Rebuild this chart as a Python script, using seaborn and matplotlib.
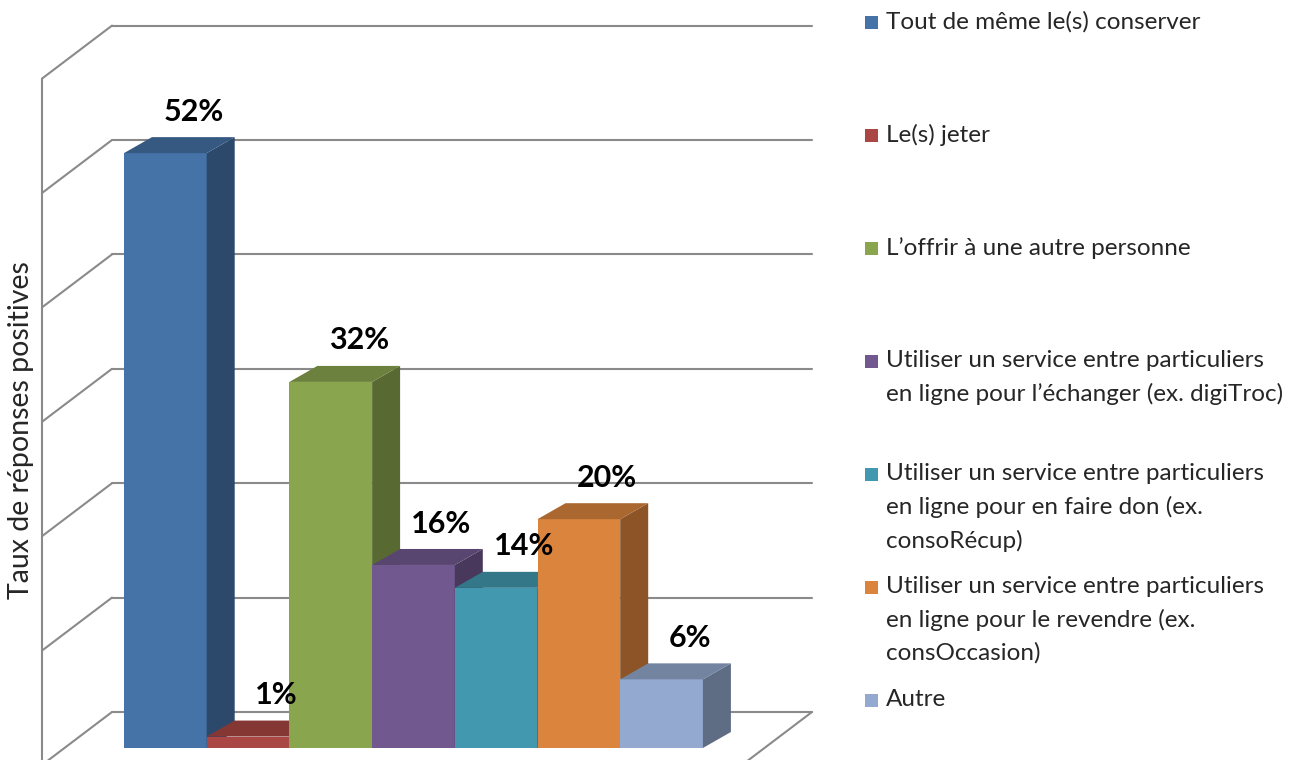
import matplotlib
matplotlib.use("Agg")
import matplotlib.pyplot as plt
import seaborn as sns
import pandas as pd
from matplotlib.patches import Polygon, Rectangle
from matplotlib.colors import to_rgb

categories = [
    "Tout de même le(s) conserver",
    "Le(s) jeter",
    "L’offrir à une autre personne",
    "Utiliser un service entre particuliers\nen ligne pour l’échanger (ex. digiTroc)",
    "Utiliser un service entre particuliers\nen ligne pour en faire don (ex.\nconsoRécup)",
    "Utiliser un service entre particuliers\nen ligne pour le revendre (ex.\nconsOccasion)",
    "Autre",
]
values = [52, 1, 32, 16, 14, 20, 6]
value_labels = ["52%", "1%", "32%", "16%", "14%", "20%", "6%"]
grid_values = [0, 10, 20, 30, 40, 50, 60]
colors = ["#4572A7", "#AA4643", "#89A54E", "#71588F", "#4198AF", "#DB843D", "#93A9CF"]

W, H = 1297, 760
PX_CAT = 82.7     # pixels per category
PX_PCT = 11.44    # pixels per percent
X0_PX = 124       # left edge of first bar
Y0_PX = 748       # floor of the front plane


def px_x(px):
    return (px - X0_PX) / PX_CAT - 0.5


def px_y(py):
    return (Y0_PX - py) / PX_PCT


def shade(col, f):
    r, g, b = to_rgb(col)
    return (r * f, g * f, b * f)


# depth of the bars and of the walls, in data units
BAR_DX = 28 / PX_CAT
BAR_DY = 16 / PX_PCT
WALL_DY = 36 / PX_PCT
WALL_X0 = px_x(112)
WALL_X1 = px_x(812)
LEFT_X = px_x(42)
SIDE_DX = 70 / PX_CAT
SIDE_DY = 53 / PX_PCT

sns.set_theme(style="white")
plt.rcParams["font.family"] = ["Lato", "DejaVu Sans"]

fig = plt.figure(figsize=(W / 100, H / 100), dpi=100)
ax = fig.add_axes([0, 0, 1, 1])

df = pd.DataFrame({"cat": categories, "val": values})
sns.barplot(data=df, x="cat", y="val", hue="cat", palette=colors, width=1.0,
            saturation=1, legend=False, linewidth=0, ax=ax)

ax.set_xlim(px_x(0), px_x(W))
ax.set_ylim(px_y(H), px_y(0))
ax.axis("off")

# back wall, left wall and floor edges
gcol = "#8a8a8a"
for v in grid_values:
    yb = v + WALL_DY
    ax.plot([WALL_X0, WALL_X1], [yb, yb], color=gcol, lw=1.5, zorder=1)
    ax.plot([WALL_X0, WALL_X0 - SIDE_DX], [yb, yb - SIDE_DY], color=gcol, lw=1.5, zorder=1)
ax.plot([LEFT_X, LEFT_X], [grid_values[-1] + WALL_DY - SIDE_DY, px_y(H) - 1],
        color=gcol, lw=1.5, zorder=1)
ax.plot([WALL_X1, WALL_X1 - SIDE_DX], [WALL_DY, WALL_DY - SIDE_DY], color=gcol, lw=1.5, zorder=1)

# pseudo 3D faces built from the seaborn bars
bars = sorted(ax.patches, key=lambda p: p.get_x())
for i, (p, col, lab) in enumerate(zip(bars, colors, value_labels)):
    x, w, h = p.get_x(), p.get_width(), p.get_height()
    z = 3 + i
    p.set_zorder(z)
    side = Polygon([(x + w, 0), (x + w + BAR_DX, BAR_DY), (x + w + BAR_DX, h + BAR_DY), (x + w, h)],
                   closed=True, facecolor=shade(col, 0.64), edgecolor="none", zorder=z)
    top = Polygon([(x, h), (x + BAR_DX, h + BAR_DY), (x + w + BAR_DX, h + BAR_DY), (x + w, h)],
                  closed=True, facecolor=shade(col, 0.78), edgecolor="none", zorder=z)
    ax.add_patch(side)
    ax.add_patch(top)
    ax.text(x + w / 2 + BAR_DX, h + BAR_DY + 1.0, lab, ha="center", va="bottom",
            fontsize=22, fontweight="bold", color="black", zorder=20)

fig.text(21 / W, 1 - 430 / H, "Taux de réponses positives", rotation=90,
         ha="center", va="center", fontsize=20.5)

# legend
for i, (cat, col) in enumerate(zip(categories, colors)):
    yc = 22 + i * 113
    fig.patches.append(Rectangle((865 / W, 1 - (yc + 7) / H), 13 / W, 13 / H,
                                 transform=fig.transFigure, facecolor=col, edgecolor="none"))
    fig.text(886 / W, 1 - (yc - 11) / H, cat, ha="left", va="top", fontsize=17.5,
             linespacing=1.65)

fig.savefig("out.png", dpi=100)
